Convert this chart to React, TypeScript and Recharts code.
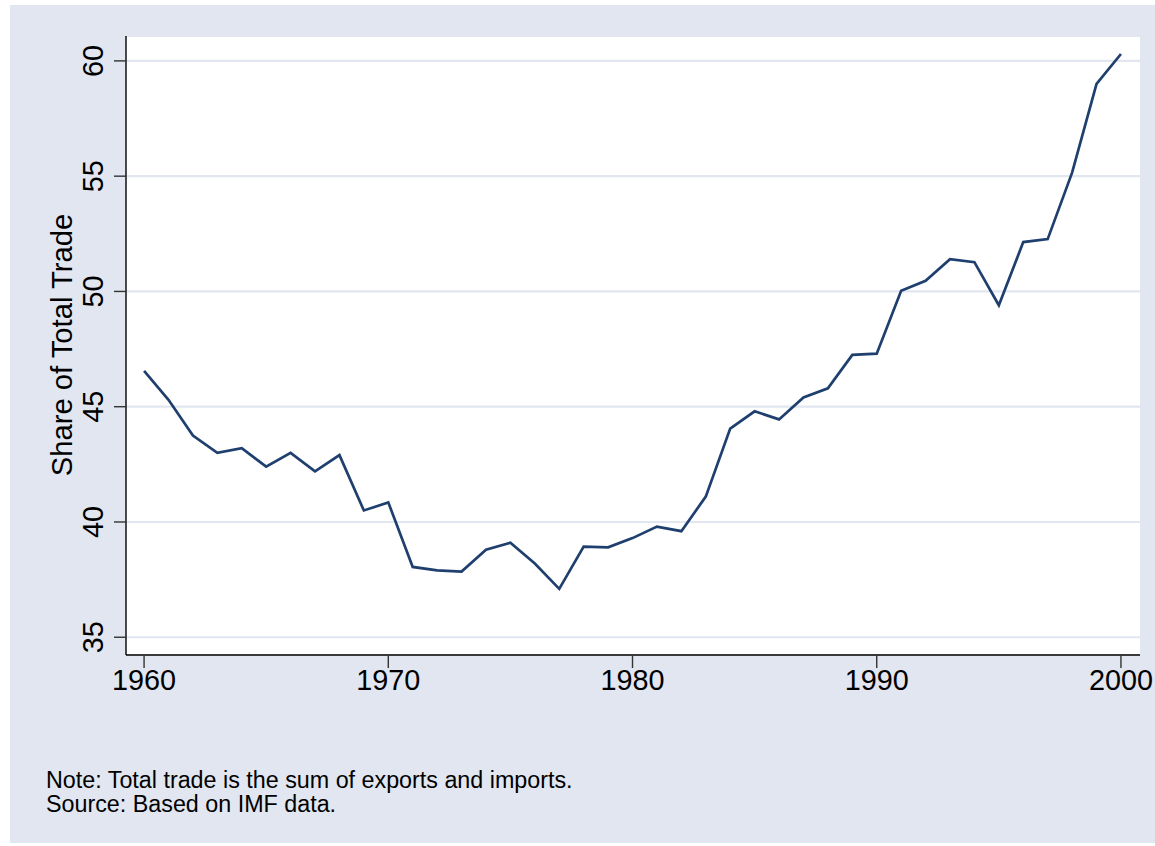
import React from 'react'
import { LineChart, Line, CartesianGrid, XAxis, YAxis } from 'recharts'

const years = [
  1960, 1961, 1962, 1963, 1964, 1965, 1966, 1967, 1968, 1969,
  1970, 1971, 1972, 1973, 1974, 1975, 1976, 1977, 1978, 1979,
  1980, 1981, 1982, 1983, 1984, 1985, 1986, 1987, 1988, 1989,
  1990, 1991, 1992, 1993, 1994, 1995, 1996, 1997, 1998, 1999, 2000,
]
const tradeShare = [
  46.55, 45.3, 43.75, 43.0, 43.2, 42.4, 43.0, 42.2, 42.9, 40.5,
  40.85, 38.05, 37.9, 37.85, 38.8, 39.1, 38.2, 37.1, 38.93, 38.9,
  39.3, 39.8, 39.6, 41.1, 44.05, 44.8, 44.45, 45.4, 45.8, 47.25,
  47.3, 50.03, 50.46, 51.4, 51.27, 49.4, 52.14, 52.27, 55.15, 59.0, 60.3,
]
const xTicks = [1960, 1970, 1980, 1990, 2000]
const yTicks = [35, 40, 45, 50, 55, 60]
const yTitle = 'Share of Total Trade'
const notes = [
  'Note: Total trade is the sum of exports and imports.',
  'Source: Based on IMF data.',
]

const data = years.map((year, i) => ({ year, share: tradeShare[i] }))

const FONT = '"Liberation Sans", Arial, Helvetica, sans-serif'
const BG = '#e1e6f0'

function YTick({ x, y, payload }: any) {
  return (
    <text
      x={x}
      y={y}
      transform={`rotate(-90, ${x}, ${y})`}
      textAnchor="middle"
      fontSize={28.8}
      fontFamily={FONT}
      fill="#000"
    >
      {payload.value}
    </text>
  )
}

function XTick({ x, y, payload }: any) {
  return (
    <text x={x} y={y + 20} textAnchor="middle" fontSize={28.8} fontFamily={FONT} fill="#000">
      {payload.value}
    </text>
  )
}

export default function App() {
  return (
    <div style={{ position: 'absolute', left: 0, top: 0, width: 1155, height: 846, background: '#fff' }}>
      <div style={{ position: 'absolute', left: 10, top: 5, width: 1145, height: 838, background: BG }} />
      <div style={{ position: 'absolute', left: 0, top: 0 }}>
        <LineChart width={1155} height={846} data={data} margin={{ top: 36, right: 15, bottom: 131, left: 0 }}>
          <CartesianGrid vertical={false} fill="#fff" stroke={BG} strokeWidth={2.2} />
          <XAxis
            dataKey="year"
            type="number"
            domain={[1959.26, 2000.78]}
            ticks={xTicks}
            height={60}
            tickSize={13}
            tick={<XTick />}
            axisLine={{ stroke: '#000', strokeWidth: 1.4 }}
            tickLine={{ stroke: '#333', strokeWidth: 1.4 }}
            allowDataOverflow
          />
          <YAxis
            type="number"
            domain={[34.23, 61.08]}
            ticks={yTicks}
            width={126}
            tickSize={12}
            tickMargin={11}
            tick={<YTick />}
            axisLine={{ stroke: '#000', strokeWidth: 1.4 }}
            tickLine={{ stroke: '#333', strokeWidth: 1.4 }}
            allowDataOverflow
          />
          <Line
            dataKey="share"
            type="linear"
            stroke="#1f3f6e"
            strokeWidth={2.7}
            dot={false}
            isAnimationActive={false}
          />
        </LineChart>
      </div>
      <svg width={1155} height={846} style={{ position: 'absolute', left: 0, top: 0, pointerEvents: 'none' }}>
        <text
          x={72}
          y={345}
          transform="rotate(-90, 72, 345)"
          textAnchor="middle"
          fontSize={29.2}
          fontFamily={FONT}
          fill="#000"
        >
          {yTitle}
        </text>
        {notes.map((line, i) => (
          <text key={i} x={46} y={788 + i * 23.5} fontSize={23.3} fontFamily={FONT} fill="#000">
            {line}
          </text>
        ))}
      </svg>
    </div>
  )
}
